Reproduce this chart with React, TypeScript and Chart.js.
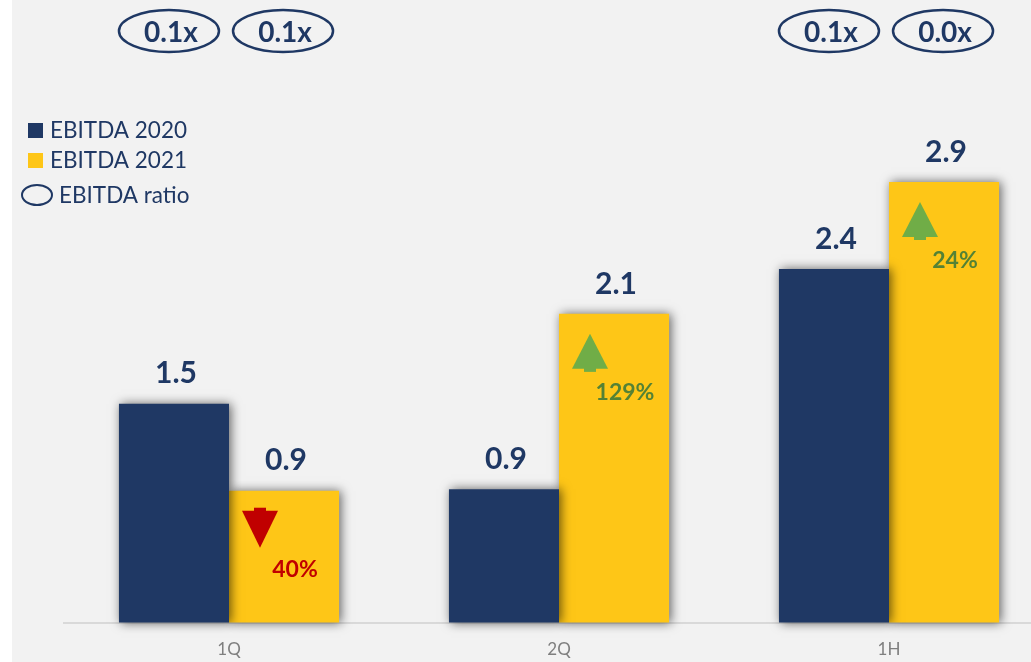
import React, { useEffect, useRef } from 'react';
import { Chart, registerables } from 'chart.js';

Chart.register(...registerables);

const categories = ['1Q', '2Q', '1H'];
const ebitda2020 = [1.46, 0.89, 2.36];
const ebitda2021 = [0.88, 2.06, 2.94];
const ratio2020 = ['0.1x', '', '0.1x'];
const ratio2021 = ['0.1x', '', '0.0x'];
const changeLabels = ['40%', '129%', '24%'];
const changeUp = [false, true, true];

const NAVY = '#1f3864';
const YELLOW = '#fec617';
const RED = '#c00000';
const GREEN = '#70ad47';
const DARK_GREEN = '#548235';
const FONT = 'Lato, "Open Sans", sans-serif';

const shadowPlugin = {
  id: 'barShadow',
  beforeDatasetsDraw(chart: any) {
    const ctx = chart.ctx;
    ctx.save();
    ctx.shadowColor = 'rgba(0,0,0,0.6)';
    ctx.shadowBlur = 10;
    ctx.shadowOffsetX = 2;
    ctx.shadowOffsetY = 0;
  },
  afterDatasetsDraw(chart: any) {
    chart.ctx.restore();
  },
};

const overlayPlugin = {
  id: 'overlay',
  afterDraw(chart: any) {
    const ctx = chart.ctx;
    const m0 = chart.getDatasetMeta(0).data;
    const m1 = chart.getDatasetMeta(1).data;
    ctx.save();

    // value labels
    ctx.fillStyle = NAVY;
    ctx.font = `bold 30px ${FONT}`;
    ctx.textAlign = 'center';
    ctx.textBaseline = 'middle';
    m0.forEach((b: any, i: number) => {
      ctx.fillText(ebitda2020[i].toFixed(1), b.x + 2, b.y - 30);
    });
    m1.forEach((b: any, i: number) => {
      ctx.fillText(ebitda2021[i].toFixed(1), b.x + 2, b.y - 30);
    });

    // ratio ellipses
    const drawRatio = (x: number, txt: string) => {
      if (!txt) return;
      ctx.beginPath();
      ctx.ellipse(x, 31, 50, 21, 0, 0, Math.PI * 2);
      ctx.strokeStyle = NAVY;
      ctx.lineWidth = 2.5;
      ctx.stroke();
      ctx.fillStyle = NAVY;
      ctx.font = `bold 28px ${FONT}`;
      ctx.textAlign = 'center';
      ctx.textBaseline = 'middle';
      ctx.fillText(txt, x + 2, 33);
    };
    m0.forEach((b: any, i: number) => drawRatio(b.x - 5, ratio2020[i]));
    m1.forEach((b: any, i: number) => drawRatio(b.x - 1, ratio2021[i]));

    // change arrows
    m1.forEach((b: any, i: number) => {
      const left = b.x - b.width / 2;
      const cx = left + 31;
      const top = b.y + 20;
      if (changeUp[i]) {
        ctx.fillStyle = GREEN;
        ctx.beginPath();
        ctx.moveTo(cx, top);
        ctx.lineTo(cx + 18, top + 35);
        ctx.lineTo(cx - 18, top + 35);
        ctx.closePath();
        ctx.fill();
        ctx.fillRect(cx - 6, top + 34, 12, 4);
        ctx.fillStyle = DARK_GREEN;
      } else {
        ctx.fillStyle = RED;
        ctx.fillRect(cx - 6, top - 3, 12, 4);
        ctx.beginPath();
        ctx.moveTo(cx - 18, top);
        ctx.lineTo(cx + 18, top);
        ctx.lineTo(cx, top + 37);
        ctx.closePath();
        ctx.fill();
        ctx.fillStyle = RED;
      }
      ctx.font = `bold 23px ${FONT}`;
      ctx.textAlign = 'center';
      ctx.textBaseline = 'middle';
      ctx.fillText(changeLabels[i], left + 66, b.y + 79);
    });

    // legend
    ctx.fillStyle = NAVY;
    ctx.fillRect(16, 123, 15, 15);
    ctx.fillStyle = YELLOW;
    ctx.fillRect(16, 153, 15, 15);
    ctx.beginPath();
    ctx.ellipse(25, 195, 15, 10, 0, 0, Math.PI * 2);
    ctx.strokeStyle = NAVY;
    ctx.lineWidth = 2;
    ctx.stroke();
    ctx.fillStyle = NAVY;
    ctx.font = `22.5px ${FONT}`;
    ctx.textAlign = 'left';
    ctx.textBaseline = 'middle';
    ctx.fillText('EBITDA 2020', 38, 131);
    ctx.fillText('EBITDA 2021', 38, 161);
    ctx.fillText('EBITDA ratio', 47, 196);

    ctx.restore();
  },
};

export default function App() {
  const ref = useRef<HTMLCanvasElement | null>(null);

  useEffect(() => {
    if (!ref.current) return;
    const chart = new Chart(ref.current, {
      type: 'bar',
      data: {
        labels: categories,
        datasets: [
          {
            label: 'EBITDA 2020',
            data: ebitda2020,
            backgroundColor: NAVY,
            categoryPercentage: 0.667,
            barPercentage: 1.0,
            clip: false as any,
          },
          {
            label: 'EBITDA 2021',
            data: ebitda2021,
            backgroundColor: YELLOW,
            categoryPercentage: 0.667,
            barPercentage: 1.0,
            clip: false as any,
          },
        ],
      },
      options: {
        responsive: false,
        animation: false,
        devicePixelRatio: 1,
        layout: { padding: { left: 52, right: 18, top: 173, bottom: 3 } },
        plugins: {
          legend: { display: false },
          tooltip: { enabled: false },
        },
        scales: {
          x: {
            grid: { display: true, color: 'rgba(0,0,0,0)', drawTicks: false },
            border: { display: true, color: '#d9d9d9', width: 2 },
            ticks: {
              color: '#7f7f7f',
              font: { family: FONT, size: 17 },
              padding: 17,
            },
          },
          y: {
            display: false,
            min: 0,
            max: 3,
          },
        },
      },
      plugins: [shadowPlugin, overlayPlugin],
    });
    return () => chart.destroy();
  }, []);

  return (
    <div
      style={{
        position: 'fixed',
        left: 0,
        top: 0,
        width: 1031,
        height: 662,
        background: '#ffffff',
        overflow: 'hidden',
      }}
    >
      <div
        style={{
          position: 'absolute',
          left: 12,
          top: 0,
          width: 1019,
          height: 662,
          background: '#f2f2f2',
          overflow: 'hidden',
        }}
      >
        <canvas ref={ref} width={1060} height={680} style={{ display: 'block' }} />
      </div>
    </div>
  );
}
